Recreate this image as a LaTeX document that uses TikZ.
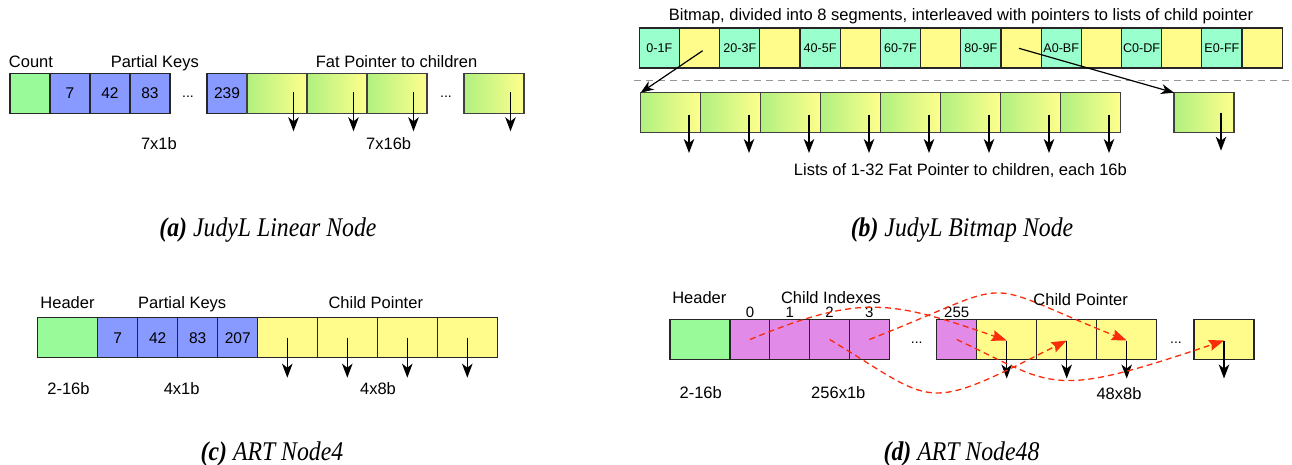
\documentclass[tikz,border=0pt]{standalone}
\usepackage{fontspec}
\usetikzlibrary{arrows.meta,calc}
\newfontfamily\labfont{Liberation Sans}
\newfontfamily\capfont[FakeStretch=0.88]{Liberation Serif}
\definecolor{hdrgreen}{RGB}{153,250,153}
\definecolor{keyblue}{RGB}{136,153,255}
\definecolor{ptryellow}{RGB}{255,252,140}
\definecolor{bmpteal}{RGB}{153,255,204}
\definecolor{idxpink}{RGB}{226,138,232}
\definecolor{fatgreen}{RGB}{176,240,128}
\definecolor{fatyellow}{RGB}{255,255,140}
\definecolor{ptrred}{RGB}{250,45,10}
\definecolor{sepgray}{RGB}{150,150,150}

\tikzset{
  cell/.style={draw=black!85, line width=1.2pt, minimum height=40pt, inner sep=0pt,
    outer sep=0pt, anchor=north west, font=\labfont\fontsize{15.5}{16}\selectfont,
    text height=11pt, text depth=0pt},
  fat/.style={left color=fatgreen, right color=fatyellow, draw=black!75},
  bmpcell/.style={cell, minimum width=40.18pt, font=\labfont\fontsize{12.6}{13}\selectfont,
    text height=9pt},
  lab/.style={font=\labfont\fontsize{16.5}{18}\selectfont, inner sep=0pt,
    text height=11.8pt, text depth=0pt},
  num/.style={font=\labfont\fontsize{15}{16}\selectfont, inner sep=0pt,
    text height=10.7pt, text depth=0pt},
  gap/.style={font=\labfont\fontsize{14}{14}\selectfont, inner sep=0pt},
  down/.style={line width=1.3pt, -{Stealth[length=14pt,width=10.5pt,inset=4pt]}},
  diag/.style={line width=1.2pt, -{Stealth[length=13pt,width=10pt,inset=4pt]}},
  redptr/.style={ptrred, line width=1.3pt, dash pattern=on 6pt off 4pt,
    -{Stealth[length=15pt,width=11pt,inset=2pt]}},
  capt/.style={font=\capfont\itshape\fontsize{27}{29}\selectfont, inner sep=0pt, anchor=base},
}

\begin{document}
\begin{tikzpicture}[x=1pt,y=-1pt]
\useasboundingbox (0,0) rectangle (1292,465);

% ---------------- JudyL linear node ----------------
\node[cell, fill=hdrgreen, minimum width=40pt] (aC) at (10,73.3) {};
\foreach \v [count=\i] in {7,42,83}
  \node[cell, fill=keyblue, minimum width=40pt] (aK\i) at ({10+40*\i},73.3) {\v};
\node[gap] (aD1) at (188,96.5) {...};
\node[cell, fill=keyblue, minimum width=40pt] (aK7) at (207,73.3) {239};
\foreach \xx [count=\i] in {247,307,367,464} {
  \node[cell, fat, minimum width=60pt] (aP\i) at (\xx,73.3) {};
  \draw[down] ($(aP\i.north west)+(46.5,19)$) coordinate (aS\i) -- ++(0,39) coordinate (aE\i);
}
\node[gap] (aD2) at (446,96.5) {...};
\node[lab] (aL1) at (31,61.7) {Count};
\node[lab] (aL2) at (154.8,61.7) {Partial Keys};
\node[lab] (aL3) at (396.6,61.7) {Fat Pointer to children};
\node[lab] (aL4) at (158.9,143.3) {7x1b};
\node[lab] (aL5) at (388.7,143.3) {7x16b};
\node[capt] (capA) at (268,236) {\textbf{(a)} JudyL Linear Node};

% ---------------- JudyL bitmap node ----------------
\node[lab] (bT) at (961,15) {Bitmap, divided into 8 segments, interleaved with pointers to lists of child pointer};
\foreach \s [count=\i from 0] in {0-1F,20-3F,40-5F,60-7F,80-9F,A0-BF,C0-DF,E0-FF} {
  \node[bmpcell, fill=bmpteal] (bB\i) at ({639.3+80.36*\i},28) {\s};
  \node[bmpcell, fill=ptryellow] (bY\i) at ({679.48+80.36*\i},28) {};
}
\draw[sepgray, line width=1.2pt, dash pattern=on 7pt off 5pt] (634,80.5) coordinate (bSep1) -- (1292,80.5) coordinate (bSep2);
\foreach \i in {1,...,8} {
  \node[cell, fat, minimum width=60pt] (bL\i) at ({580.7+60*\i},92.7) {};
  \draw[down] ($(bL\i.north west)+(48.3,22.3)$) coordinate (bS\i) -- ++(0,38) coordinate (bE\i);
}
\node[cell, fat, minimum width=60pt] (bR) at (1174,92.7) {};
\draw[down] ($(bR.north west)+(47,20)$) coordinate (bRS) -- ++(0,38) coordinate (bRE);
\coordinate (bY0s) at ($(bY0.north west)+(23.2,22.7)$);
\coordinate (bY4s) at ($(bY4.north west)+(18,20.3)$);
\draw[diag] (bY0s) -- (bL1.north west);
\draw[diag] (bY4s) -- (bR.north west);
\node[lab] (bLb) at (960.4,169.3) {Lists of 1-32 Fat Pointer to children, each 16b};
\node[capt] (capB) at (962,236) {\textbf{(b)} JudyL Bitmap Node};

% ---------------- ART Node4 ----------------
\node[cell, fill=hdrgreen, minimum width=60.4pt] (cH) at (37.3,317.7) {};
\foreach \v [count=\i] in {7,42,83,207}
  \node[cell, fill=keyblue, minimum width=40pt] (cK\i) at ({57.7+40*\i},317.7) {\v};
\foreach \i in {1,...,4} {
  \node[cell, fill=ptryellow, minimum width=60pt] (cP\i) at ({197.3+60*\i},317.7) {};
  \draw[down] ($(cP\i.north west)+(30,20)$) coordinate (cS\i) -- ++(0,40) coordinate (cE\i);
}
\node[lab] (cL1) at (67.5,302.7) {Header};
\node[lab] (cL2) at (182.2,302.7) {Partial Keys};
\node[lab] (cL3) at (375.8,302.7) {Child Pointer};
\node[lab] (cL4) at (68.5,388.3) {2-16b};
\node[lab] (cL5) at (181.7,388.3) {4x1b};
\node[lab] (cL6) at (378,388.3) {4x8b};
\node[capt] (capC) at (272,460) {\textbf{(c)} ART Node4};

% ---------------- ART Node48 ----------------
\node[cell, fill=hdrgreen, minimum width=60pt] (dH) at (670,319.5) {};
\foreach \i in {0,...,3}
  \node[cell, fill=idxpink, minimum width=40pt] (dI\i) at ({730+39.8*\i},319.5) {};
\node[gap] (dD1) at (916.7,342.5) {...};
\node[cell, fill=idxpink, minimum width=40pt] (dI255) at (936.7,319.5) {};
\foreach \xx [count=\i from 0] in {976.7,1036.7,1096.7,1194} {
  \node[cell, fill=ptryellow, minimum width=60pt] (dP\i) at (\xx,319.5) {};
  \coordinate (dS\i) at ($(dP\i.north west)+(30,21)$);
  \draw[down] (dS\i) -- ++(0,38) coordinate (dE\i);
}
\node[gap] (dD2) at (1176,342.5) {...};
\foreach \i in {0,...,3}
  \node[num] (dN\i) at ($(dI\i.north)+(0,-7.5)$) {\i};
\node[num] (dN255) at ($(dI255.north)+(0,-7.5)$) {255};
% index slots pointing into the child pointer array
\draw[redptr] (dI0.center) .. controls (860,294) and (890,300) .. (dS0);
\draw[redptr] (dI3.center) .. controls (1025,278) and (971,278) .. (dS2);
\draw[redptr] (dI2.center) .. controls (938,405) and (921,414) .. (dS1);
\draw[redptr] (dI255.center) .. controls (1056,386) and (1048,400) .. (dS3);
\node[lab] (dL1) at (699.3,297.3) {Header};
\node[lab] (dL2) at (831,297.3) {Child Indexes};
\node[lab] (dL3) at (1080.7,300) {Child Pointer};
\node[lab] (dL4) at (700.7,392.7) {2-16b};
\node[lab] (dL5) at (838.3,392.7) {256x1b};
\node[lab] (dL6) at (1119,393.3) {48x8b};
\node[capt] (capD) at (961.5,460) {\textbf{(d)} ART Node48};
\end{tikzpicture}
\end{document}
